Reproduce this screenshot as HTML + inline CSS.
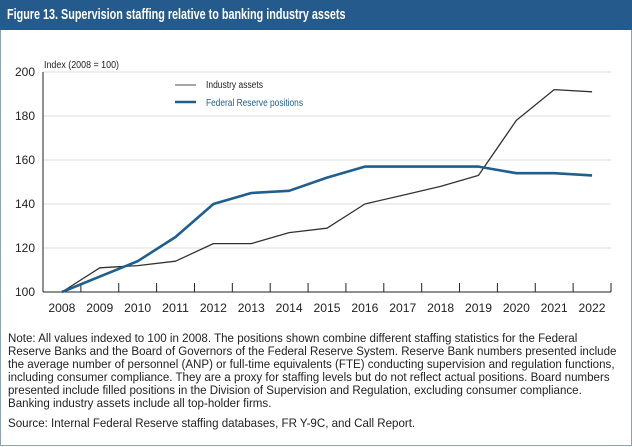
<!DOCTYPE html>
<html><head><meta charset="utf-8">
<style>
body{margin:0;width:632px;height:447px;background:#fff;font-family:"Liberation Sans",sans-serif;overflow:hidden;}
#frame{position:absolute;left:0;top:0;width:630px;height:444px;border:1px solid #8da2b8;}
#hdr{position:absolute;left:0;top:0;width:632px;height:30px;background:#245a8c;}
#hdr span{position:absolute;left:7px;top:6px;color:#fff;font-weight:bold;font-size:15px;white-space:nowrap;transform:scaleX(0.72);transform-origin:left top;}
.ln{position:absolute;left:8px;font-size:12.3px;color:#222;white-space:nowrap;transform:scaleX(0.94);transform-origin:left top;}
svg text{font-family:"Liberation Sans",sans-serif;}
</style></head><body>
<div id="frame"></div>
<div id="hdr"><span>Figure 13. Supervision staffing relative to banking industry assets</span></div>
<svg id="chart" width="632" height="330" style="position:absolute;left:0;top:0"></svg>
<div>
<div class="ln" style="top:331px">Note: All values indexed to 100 in 2008. The positions shown combine different staffing statistics for the Federal</div>
<div class="ln" style="top:344px">Reserve Banks and the Board of Governors of the Federal Reserve System. Reserve Bank numbers presented include</div>
<div class="ln" style="top:357px">the average number of personnel (ANP) or full-time equivalents (FTE) conducting supervision and regulation functions,</div>
<div class="ln" style="top:370px">including consumer compliance. They are a proxy for staffing levels but do not reflect actual positions. Board numbers</div>
<div class="ln" style="top:383px">presented include filled positions in the Division of Supervision and Regulation, excluding consumer compliance.</div>
<div class="ln" style="top:396px">Banking industry assets include all top-holder firms.</div>
</div>
<div class="ln" style="top:416px">Source: Internal Federal Reserve staffing databases, FR Y-9C, and Call Report.</div>
<script>
const years=[2008,2009,2010,2011,2012,2013,2014,2015,2016,2017,2018,2019,2020,2021,2022];
const industryAssets=[100,111,112,114,122,122,127,129,140,144,148,153,178,192,191];
const fedPositions=[100,107,114,125,140,145,146,152,157,157,157,157,154,154,153];
const yTicks=[100,120,140,160,180,200];
const NS='http://www.w3.org/2000/svg';
const svg=document.getElementById('chart');
const X0=43,X1=611,Y0=292,Y1=72;
const step=(X1-X0)/years.length;
function xs(i){return X0+step*(i+0.5);}
function ys(v){return Y0-(v-100)/(200-100)*(Y0-Y1);}
function mk(t,a){const e=document.createElementNS(NS,t);for(const k in a)e.setAttribute(k,a[k]);svg.appendChild(e);return e;}
yTicks.forEach(v=>{
  if(v>100){const g=mk('line',{x1:X0,x2:X1,y1:ys(v),y2:ys(v),stroke:'#dcdcdc','stroke-width':1});
  
  }
  const t=mk('text',{x:35,y:ys(v)+4,'text-anchor':'end','font-size':12,fill:'#222'});
  t.textContent=v;
  
  
});
const ax=mk('line',{x1:X0,x2:X1,y1:Y0,y2:Y0,stroke:'#222','stroke-width':1});


const ay=mk('line',{x1:X0,x2:X0,y1:Y1,y2:Y0,stroke:'#222','stroke-width':1});


for(let i=1;i<=years.length;i++){
  const tk=mk('line',{x1:X0+step*i,x2:X0+step*i,y1:Y0-9,y2:Y0,stroke:'#222','stroke-width':1});
  
  
}
years.forEach((y,i)=>{
  const t=mk('text',{x:xs(i),y:312,'text-anchor':'middle','font-size':12,fill:'#222','textLength':27,'lengthAdjust':'spacingAndGlyphs'});
  t.textContent=y;
  
  
});
const yt=mk('text',{x:44,y:68,'font-size':10,fill:'#222','textLength':75,'lengthAdjust':'spacingAndGlyphs'});
yt.textContent='Index (2008 = 100)';


function line(vals,color,w,name){
  const p=mk('polyline',{points:vals.map((v,i)=>xs(i)+','+ys(v)).join(' '),fill:'none',stroke:color,'stroke-width':w,'stroke-linejoin':'round'});
  
  
}
line(industryAssets,'#333',1.3,'industry-assets-line');
line(fedPositions,'#1f5f8f',2.6,'fed-positions-line');
const l1=mk('line',{x1:175,x2:196,y1:85,y2:85,stroke:'#888','stroke-width':1.5});


const t1=mk('text',{x:206,y:88,'font-size':10,fill:'#222','textLength':57,'lengthAdjust':'spacingAndGlyphs'});
t1.textContent='Industry assets';


const l2=mk('line',{x1:175,x2:196,y1:102,y2:102,stroke:'#1f5f8f','stroke-width':2.6});


const t2=mk('text',{x:206,y:106,'font-size':10,fill:'#1f5f8f','textLength':97,'lengthAdjust':'spacingAndGlyphs'});
t2.textContent='Federal Reserve positions';


</script>
</body></html>
